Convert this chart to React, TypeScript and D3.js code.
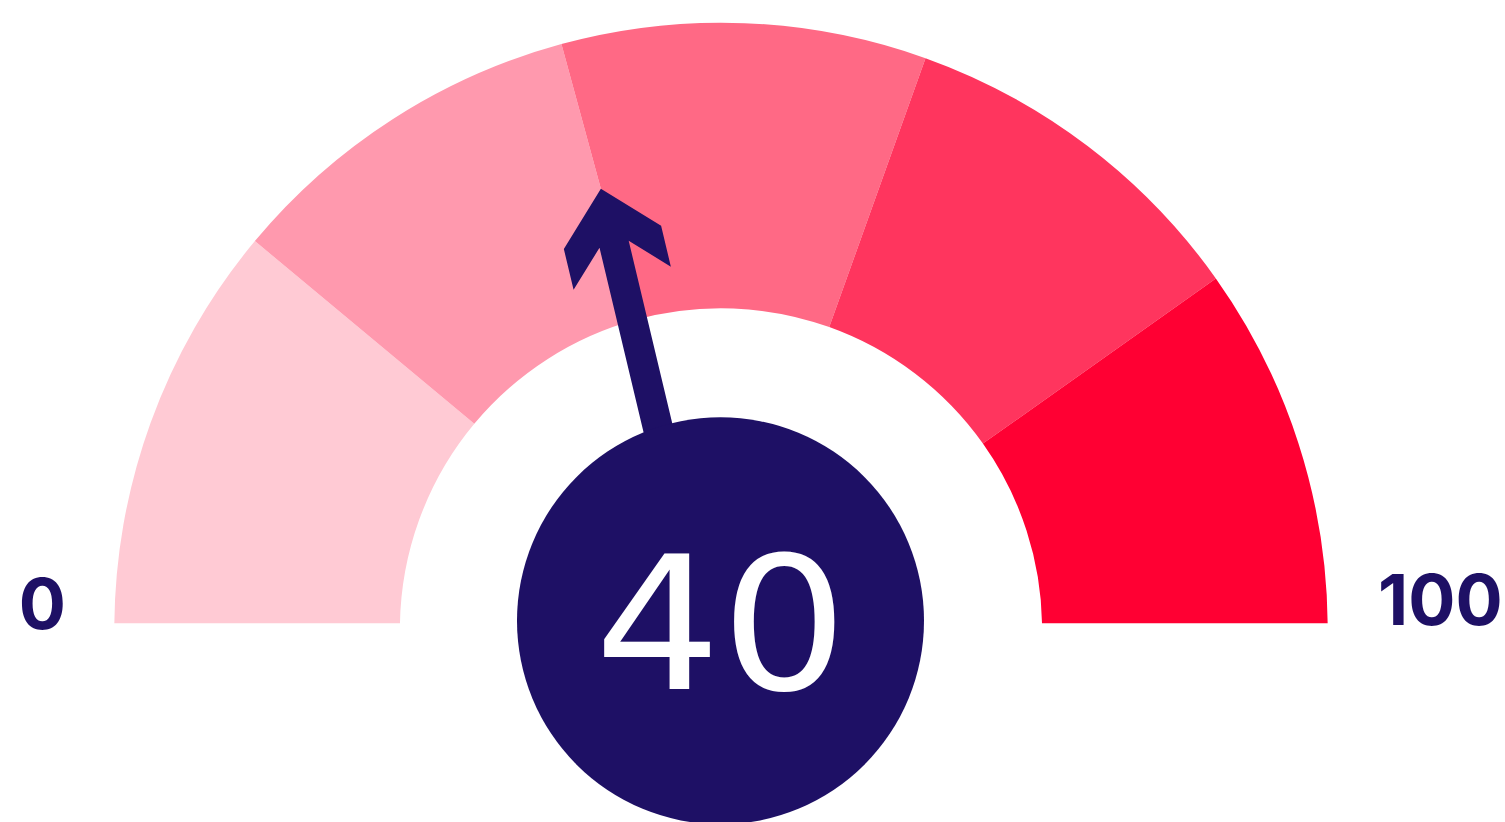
import React from "react";
import * as d3 from "d3";

// ---- data ----
const gaugeValue = 40;
const bandEdges = [0, 20, 40, 60, 80, 100];
const bandColors = ["#FFCAD4", "#FF99AE", "#FF6985", "#FF355E", "#FF0033"];
const minLabel = "0";
const maxLabel = "100";

// ---- layout ----
const W = 1505;
const H = 822;
const CX = 721;
const CY = 629.4;
const R_OUT = 606.7;
const R_IN = 321.1;
const CLIP_Y = 623.3;
const NAVY = "#1E1065";

// value -> angle (degrees, 0 = 12 o'clock, clockwise)
const angleDeg = d3.scaleLinear().domain([0, 20, 100]).range([-90, -50.2, 89.6]);
const toRad = (d: number) => (d * Math.PI) / 180;

const arcGen = d3.arc<{ a0: number; a1: number }>()
  .innerRadius(R_IN)
  .outerRadius(R_OUT)
  .startAngle((d) => d.a0)
  .endAngle((d) => d.a1);

function needlePoints(value: number) {
  const th = toRad(angleDeg(value));
  const rTip = 456.7;
  const tip = [CX + rTip * Math.sin(th), CY - rTip * Math.cos(th)];
  const base = [CX - 15, CY];
  const dx = tip[0] - base[0];
  const dy = tip[1] - base[1];
  const L = Math.hypot(dx, dy);
  const u = [dx / L, dy / L];
  const n = [-u[1], u[0]];
  const P = (a: number, s: number) => [tip[0] - a * u[0] + s * n[0], tip[1] - a * u[1] + s * n[1]];
  const local: [number, number][] = [
    [0, 0],
    [50, 50],
    [92, 50],
    [57, 15],
    [L, 15],
    [L, -15],
    [57, -15],
    [92, -50],
    [50, -50],
  ];
  return local.map(([a, s]) => P(a, s).join(",")).join(" ");
}

export default function App() {
  React.useEffect(() => {
    document.body.style.margin = "0";
    document.body.style.overflow = "hidden";
  }, []);
  const bands = bandColors.map((c, i) => ({
    a0: toRad(angleDeg(bandEdges[i])),
    a1: toRad(angleDeg(bandEdges[i + 1])),
    color: c,
  }));
  return (
    <div style={{ position: "absolute", left: 0, top: 0, width: W, height: H }}>
      <svg width={W} height={H} viewBox={`0 0 ${W} ${H}`} style={{ display: "block", background: "#fff" }}>
        <defs>
          <clipPath id="gclip" clipPathUnits="userSpaceOnUse">
            <rect x={0} y={0} width={W} height={CLIP_Y} />
          </clipPath>
        </defs>
        <g clipPath="url(#gclip)">
          <g transform={`translate(${CX},${CY})`}>
            {bands.map((b, i) => (
              <path key={i} d={arcGen(b) || ""} fill={b.color} />
            ))}
          </g>
        </g>
        <polygon points={needlePoints(gaugeValue)} fill={NAVY} />
        <circle cx={720.5} cy={620.8} r={203.5} fill={NAVY} />
        <text
          transform="translate(721,689) scale(1.075,1)"
          textAnchor="middle"
          fill="#fff"
          fontFamily="'DejaVu Sans'"
          fontSize={185}
        >
          {String(gaugeValue)}
        </text>
        <text x={66} y={629} textAnchor="end" fill={NAVY} fontFamily="Inter" fontWeight={700} fontSize={70}>
          {minLabel}
        </text>
        <text x={1378} y={625} textAnchor="start" fill={NAVY} fontFamily="Inter" fontWeight={700} fontSize={70}>
          {maxLabel}
        </text>
      </svg>
    </div>
  );
}
